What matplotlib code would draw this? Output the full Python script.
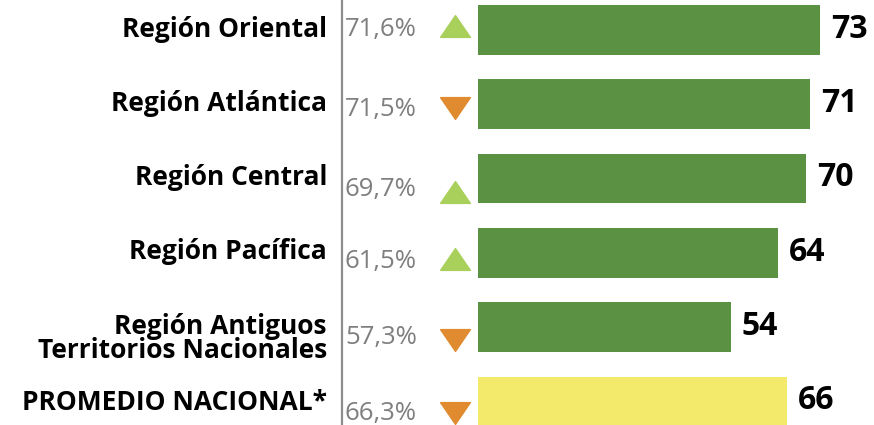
import matplotlib
matplotlib.use("Agg")
import matplotlib.pyplot as plt
import matplotlib.transforms as mtransforms

regions = ["Región Oriental", "Región Atlántica", "Región Central", "Región Pacífica",
           "Región Antiguos\nTerritorios Nacionales", "PROMEDIO NACIONAL*"]
values = [73, 71, 70, 64, 54, 66]
previous_pct = ["71,6%", "71,5%", "69,7%", "61,5%", "57,3%", "66,3%"]
trend = ["up", "down", "up", "up", "down", "down"]

GREEN = "#5B9142"
YELLOW = "#F3EA6B"
bar_colors = [GREEN] * 5 + [YELLOW]

# layout: vertical pixel offsets (downward) of the side columns from each bar centre
PCT_DY = [-1, 5, 11, 9, 10, 12]
TRI_DY = [-4, 4, 13, 6, 13, 11]
LAB_DY = [-1, -1, -1, -1, 11, 1]

W, H, DPI = 874, 425, 100
fig = plt.figure(figsize=(W / DPI, H / DPI), dpi=DPI)
ax = fig.add_axes([0, 0, 1, 1])
ax.set_axis_off()

px_per_unit = 4.68
x0 = 478
ax.set_xlim(-x0 / px_per_unit, (W - x0) / px_per_unit)
row_px = 74.3
top_px = 30
ax.set_ylim((H - top_px) / row_px, -top_px / row_px)

ys = list(range(len(values)))
ax.barh(ys, values, height=0.67, color=bar_colors, zorder=2)

family = ["Open Sans", "DejaVu Sans"]
tr = mtransforms.blended_transform_factory(ax.transAxes, ax.transData)
off = lambda dy: mtransforms.offset_copy(tr, fig=fig, x=0, y=-dy * 72 / DPI, units="points")

for y, lab, dy in zip(ys, regions, LAB_DY):
    ax.text(327 / W, y, lab, transform=off(dy), ha="right", va="center",
            fontsize=19, fontweight="bold", family=family, color="black",
            linespacing=0.85)

for y, p, dy in zip(ys, previous_pct, PCT_DY):
    ax.text(345 / W, y, p, transform=off(dy), ha="left", va="center",
            fontsize=18.5, family=family, color="#7F7F7F")

up_verts = [(-1, -0.73), (1, -0.73), (0, 0.73), (-1, -0.73)]
down_verts = [(-1, 0.73), (1, 0.73), (0, -0.73), (-1, 0.73)]
for y, t, dy in zip(ys, trend, TRI_DY):
    ax.plot([455 / W], [y], transform=off(dy),
            marker=up_verts if t == "up" else down_verts, ms=21.5,
            color="#A8D05A" if t == "up" else "#E08B2F", linestyle="none")

for y, v in zip(ys, values):
    ax.annotate(str(v), (v, y), xytext=(8, 0.5), textcoords="offset points",
                ha="left", va="center", fontsize=23, fontweight="bold",
                family=family, color="black")

ax.plot([342 / W, 342 / W], [0, 1], transform=ax.transAxes, color="#8C8C8C", lw=1.6)

fig.savefig("out.png", dpi=DPI)
